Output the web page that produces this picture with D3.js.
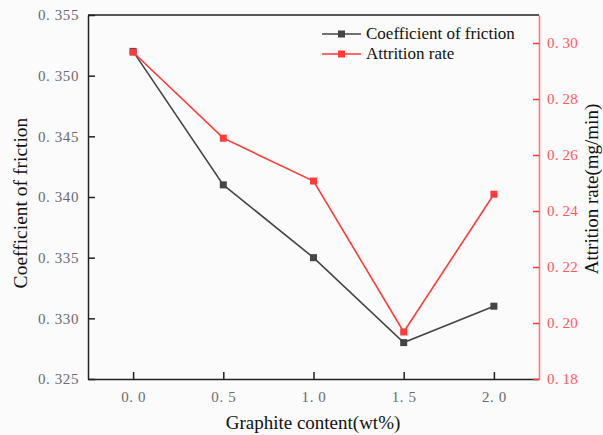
<!DOCTYPE html>
<html>
<head>
<meta charset="utf-8">
<script src="https://cdn.jsdelivr.net/npm/d3@7"></script>
<style>
  body { margin: 0; background: #fbfbfb; }
  svg { display: block; }
</style>
</head>
<body>
<svg width="603" height="435"></svg>
<script>
  const content = [0.0, 0.5, 1.0, 1.5, 2.0];
  const friction = [0.352, 0.341, 0.335, 0.328, 0.331];
  const attrition = [0.2967, 0.266, 0.2507, 0.1968, 0.246];
  const xTicks = [0.0, 0.5, 1.0, 1.5, 2.0];
  const leftTicks = [0.325, 0.330, 0.335, 0.340, 0.345, 0.350, 0.355];
  const rightTicks = [0.18, 0.20, 0.22, 0.24, 0.26, 0.28, 0.30];

  const svg = d3.select('svg');
  const m = { left: 88, right: 539, top: 15, bottom: 379 };
  const serif = '"Liberation Serif", "Times New Roman", serif';
  const red = '#ff3b3b';
  const grey = '#454545';

  const x = d3.scaleLinear().domain([-0.25, 2.25]).range([m.left, m.right]);
  const yL = d3.scaleLinear().domain([0.325, 0.355]).range([m.bottom, m.top]);
  const yR = d3.scaleLinear().domain([0.18, 0.31]).range([m.bottom, m.top]);

  // fake the "0. 355" look of the original tick labels
  const fmt = (f) => (d) => f(d).replace('.', '. ');

  const xAxis = svg.append('g')
    .attr('transform', `translate(0,${m.bottom})`)
    .call(d3.axisBottom(x).tickValues(xTicks).tickFormat(fmt(d3.format('.1f')))
      .tickSizeInner(-7).tickSizeOuter(0).tickPadding(12));

  const lAxis = svg.append('g')
    .attr('transform', `translate(${m.left},0)`)
    .call(d3.axisLeft(yL).tickValues(leftTicks).tickFormat(fmt(d3.format('.3f')))
      .tickSizeInner(-7).tickSizeOuter(0).tickPadding(9));

  const rAxis = svg.append('g')
    .attr('transform', `translate(${m.right},0)`)
    .call(d3.axisRight(yR).tickValues(rightTicks).tickFormat(fmt(d3.format('.2f')))
      .tickSizeInner(-6).tickSizeOuter(0).tickPadding(8));

  [xAxis, lAxis].forEach(a => {
    a.select('.domain').attr('stroke', '#222').attr('stroke-width', 1.5);
    a.selectAll('.tick line').attr('stroke', '#222').attr('stroke-width', 1.5);
    a.selectAll('.tick text').attr('fill', '#6a6a72')
      .style('font-family', serif).style('font-size', '15px').style('letter-spacing', '0.6px');
  });
  rAxis.select('.domain').attr('stroke', '#ff7070').attr('stroke-width', 1.5);
  rAxis.selectAll('.tick line').attr('stroke', red).attr('stroke-width', 1.5);
  rAxis.selectAll('.tick text').attr('fill', '#ff5a5a')
    .style('font-family', serif).style('font-size', '15px').style('letter-spacing', '0.2px');

  // top frame line
  svg.append('line')
    .attr('x1', m.left).attr('x2', m.right)
    .attr('y1', m.top).attr('y2', m.top)
    .attr('stroke', '#222').attr('stroke-width', 1.5);

  const series = [
    { vals: friction, y: yL, color: grey },
    { vals: attrition, y: yR, color: red }
  ];

  series.forEach(s => {
    const line = d3.line().x((d, i) => x(content[i])).y(d => s.y(d));
    svg.append('path')
      .datum(s.vals)
      .attr('d', line)
      .attr('fill', 'none')
      .attr('stroke', s.color)
      .attr('stroke-width', 1.6);
    svg.selectAll(null)
      .data(s.vals)
      .enter().append('rect')
        .attr('x', (d, i) => x(content[i]) - 3.5)
        .attr('y', d => s.y(d) - 3.5)
        .attr('width', 7).attr('height', 7)
        .attr('fill', s.color);
  });

  // legend
  const legend = [
    { name: 'Coefficient of friction', color: grey },
    { name: 'Attrition rate', color: red }
  ];
  const lg = svg.append('g');
  legend.forEach((l, i) => {
    const yy = 34 + i * 20;
    lg.append('line').attr('x1', 322).attr('x2', 361).attr('y1', yy).attr('y2', yy)
      .attr('stroke', l.color).attr('stroke-width', 1.6);
    lg.append('rect').attr('x', 338).attr('y', yy - 3.5).attr('width', 7).attr('height', 7)
      .attr('fill', l.color);
    lg.append('text').attr('x', 366).attr('y', yy + 5)
      .style('font-family', serif).style('font-size', '17px').attr('fill', '#111')
      .text(l.name);
  });

  // axis titles
  svg.append('text')
    .attr('transform', `translate(27,${(m.top + m.bottom) / 2 + 6}) rotate(-90)`)
    .attr('text-anchor', 'middle')
    .style('font-family', serif).style('font-size', '19.5px').attr('fill', '#111')
    .text('Coefficient of friction');

  svg.append('text')
    .attr('transform', `translate(598,${(m.top + m.bottom) / 2 - 8}) rotate(-90)`)
    .attr('text-anchor', 'middle')
    .style('font-family', serif).style('font-size', '19px').attr('fill', '#111')
    .text('Attrition rate(mg/min)');

  svg.append('text')
    .attr('x', 313).attr('y', 429)
    .attr('text-anchor', 'middle')
    .style('font-family', serif).style('font-size', '19px').attr('fill', '#111')
    .text('Graphite content(wt%)');
</script>
</body>
</html>
